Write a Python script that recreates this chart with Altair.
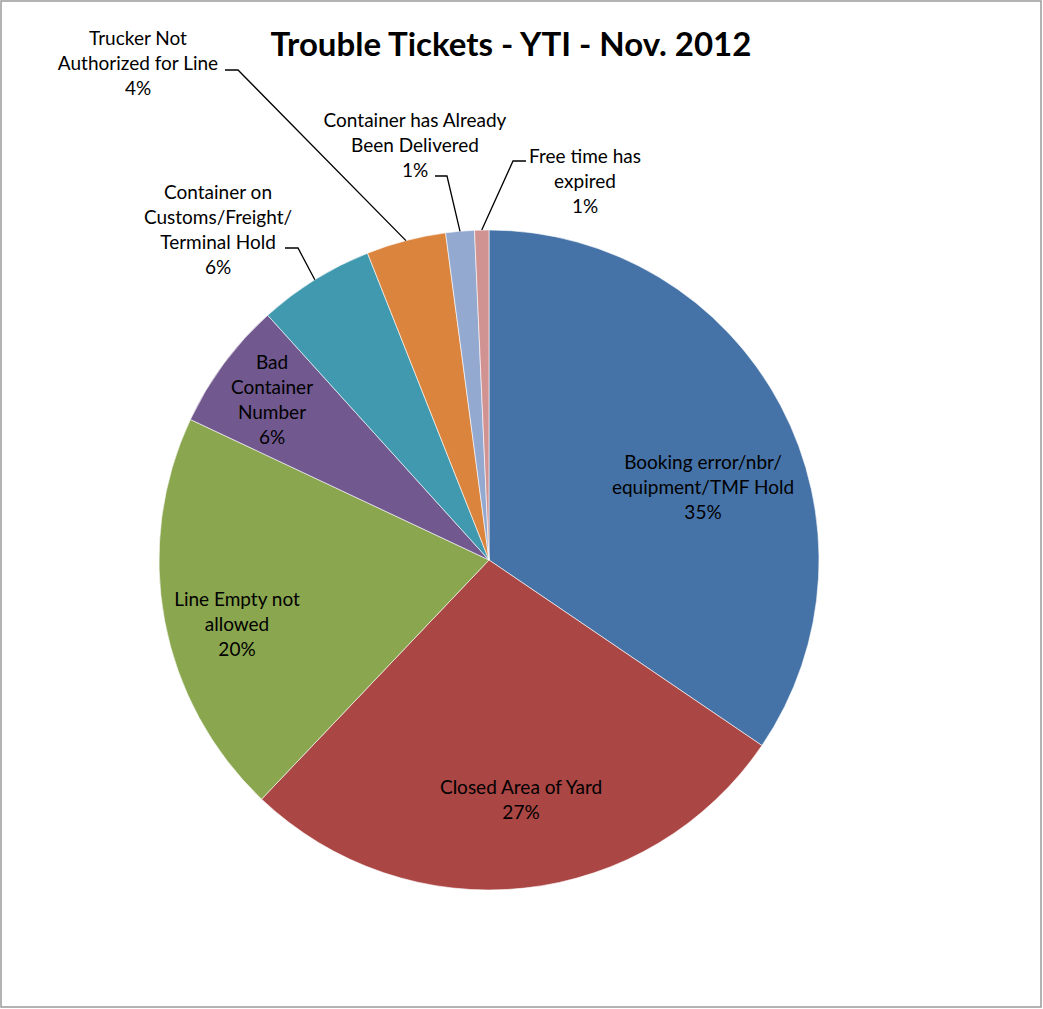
import math
import altair as alt
import pandas as pd

# ---------------- data ----------------
categories = [
    "Booking error/nbr/equipment/TMF Hold",
    "Closed Area of Yard",
    "Line Empty not allowed",
    "Bad Container Number",
    "Container on Customs/Freight/Terminal Hold",
    "Trucker Not Authorized for Line",
    "Container has Already Been Delivered",
    "Free time has expired",
]
shares = [34.5, 27.6, 19.9, 6.3, 5.7, 3.9, 1.4, 0.7]
pct_labels = ["35%", "27%", "20%", "6%", "6%", "4%", "1%", "1%"]
label_lines = [
    ["Booking error/nbr/", "equipment/TMF Hold"],
    ["Closed Area of Yard"],
    ["Line Empty not", "allowed"],
    ["Bad", "Container", "Number"],
    ["Container on", "Customs/Freight/", "Terminal Hold"],
    ["Trucker Not", "Authorized for Line"],
    ["Container has Already", "Been Delivered"],
    ["Free time has", "expired"],
]
colors = ["#4673A7", "#AA4644", "#8AA64F", "#71588F", "#4199AF", "#DB843D", "#93A9D0", "#D19392"]
title_text = "Trouble Tickets - YTI - Nov. 2012"

# ---------------- layout (page pixels) ----------------
PAD = 1
PIE_CX, PIE_CY, PIE_R = 489, 560, 330
LINE_H = 25
label_centers = [(703, 488), (521, 800), (237, 625), (272, 400),
                 (218, 230), (138, 64), (415, 146), (585, 182)]
# leaders: category index -> (elbow, end)
leaders = {
    4: ((298, 248), (285, 248)),
    5: ((238, 70), (225, 70)),
    6: ((447, 176), (435, 176)),
    7: ((513, 161), (526, 161)),
}

# ---------------- tables ----------------
pie_df = pd.DataFrame({"category": categories, "share": shares, "order": list(range(len(categories)))})

n_lines = [len(l) + 1 for l in label_lines]
lab_df = pd.DataFrame({
    "category": categories,
    "text": ["\n".join(l + [p]) for l, p in zip(label_lines, pct_labels)],
    "x": [c[0] - PAD for c in label_centers],
    "y": [c[1] - PAD - (n - 1) * LINE_H / 2 for c, n in zip(label_centers, n_lines)],
})

total = sum(shares)
cum = [sum(shares[:i]) for i in range(len(shares))]
rows = []
for i, (elbow, end) in leaders.items():
    mid = (cum[i] + shares[i] / 2) / total * 2 * math.pi
    px = PIE_CX + PIE_R * math.sin(mid)
    py = PIE_CY - PIE_R * math.cos(mid)
    for k, (xx, yy) in enumerate([(px, py), elbow, end]):
        rows.append({"leader": categories[i], "seq": k, "x": xx - PAD, "y": yy - PAD})
lead_df = pd.DataFrame(rows)

FONT = "Lato"

pie = alt.Chart(pie_df).mark_arc(outerRadius=PIE_R, stroke="white", strokeWidth=0.6).encode(
    theta=alt.Theta("share:Q", stack=True),
    color=alt.Color("category:N", scale=alt.Scale(domain=categories, range=colors), legend=None),
    order=alt.Order("order:Q"),
    x=alt.value(PIE_CX - PAD),
    y=alt.value(PIE_CY - PAD),
)

labels = alt.Chart(lab_df).mark_text(
    font=FONT, fontSize=19, lineHeight=LINE_H, lineBreak="\n", color="black",
    align="center", baseline="middle",
).encode(
    x=alt.X("x:Q", scale=None),
    y=alt.Y("y:Q", scale=None),
    text="text:N",
)

lines = alt.Chart(lead_df).mark_line(color="black", strokeWidth=1.3).encode(
    x=alt.X("x:Q", scale=None),
    y=alt.Y("y:Q", scale=None),
    detail="leader:N",
    order="seq:Q",
)

title = alt.Chart(pd.DataFrame({"t": [title_text]})).mark_text(
    font=FONT, fontSize=33, fontWeight="bold", color="black", align="center", baseline="middle",
).encode(
    x=alt.value(511 - PAD),
    y=alt.value(46 - PAD),
    text="t:N",
)

chart = alt.layer(pie, lines, labels, title).properties(
    width=1040,
    height=1006,
    padding={"left": 1, "top": 1, "right": 2, "bottom": 2},
    autosize=alt.AutoSizeParams(type="none"),
).configure_view(stroke="#9a9a9a", strokeWidth=1.5)

chart.save("out.html", embed_options={"renderer": "svg", "actions": False})
